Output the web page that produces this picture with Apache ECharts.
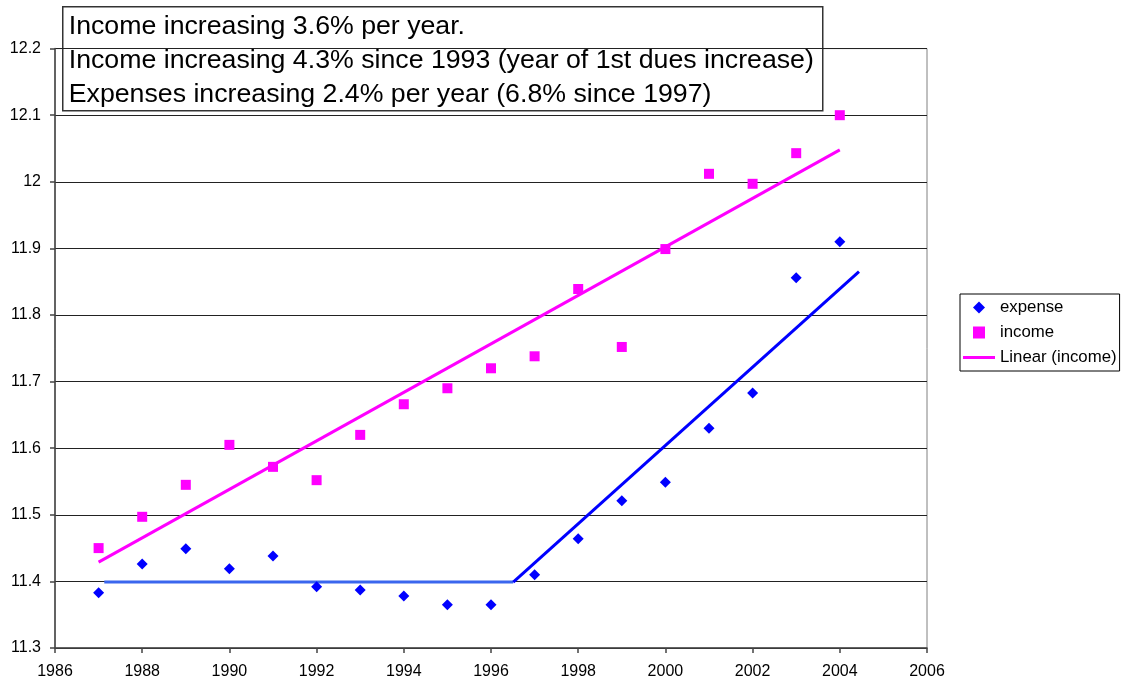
<!DOCTYPE html>
<html>
<head>
<meta charset="utf-8">
<style>
  html, body { margin: 0; padding: 0; background: #fff; }
  #chart { width: 1122px; height: 680px; }
</style>
<script src="https://cdn.jsdelivr.net/npm/echarts@6/dist/echarts.min.js"></script>
</head>
<body>
<div id="chart"></div>
<script>
// Years shown on the chart
const years = [1987, 1988, 1989, 1990, 1991, 1992, 1993, 1994, 1995, 1996,
               1997, 1998, 1999, 2000, 2001, 2002, 2003, 2004];

// Annual income and expense (log scale values)
const income = [11.450, 11.497, 11.545, 11.605, 11.572, 11.552, 11.620, 11.666, 11.690, 11.720,
                11.738, 11.839, 11.752, 11.899, 12.012, 11.997, 12.043, 12.100];
const expense = [11.383, 11.426, 11.449, 11.419, 11.438, 11.392, 11.387, 11.378, 11.365, 11.365,
                 11.410, 11.464, 11.521, 11.549, 11.630, 11.683, 11.856, 11.910];

// Linear trend of income: endpoints [year, value]
const incomeTrend = [[1987, 11.429], [2004, 12.048]];

// Expense guide lines: flat until 1996.5, rising afterwards
const expenseFlat = [[1987.13, 11.399], [1996.51, 11.399]];
const expenseRise = [[1996.51, 11.399], [2004.44, 11.865]];

// Axis ranges and tick steps
const xRange = [1986, 2006, 2];
const yRange = [11.3, 12.2, 0.1];

// Notes shown in the box at the top
const notes = [
  'Income increasing 3.6% per year.',
  'Income increasing 4.3% since 1993 (year of 1st dues increase)',
  'Expenses increasing 2.4% per year (6.8% since 1997)'
];

const FONT = '"Liberation Sans", Arial, sans-serif';
const pair = (xs, ys) => xs.map((x, i) => [x, ys[i]]);

// Legend icons (paths keep their aspect ratio inside the icon box)
const ICON_DIAMOND = 'path://M5,0 L10,5 L5,10 L0,5 Z';
const ICON_SQUARE = 'path://M0,0 L10,0 L10,10 L0,10 Z';
const ICON_LINE = 'path://M0,0 L32,0 L32,3 L0,3 Z';

const chart = echarts.init(document.getElementById('chart'), null, { renderer: 'canvas' });

chart.setOption({
  backgroundColor: '#ffffff',
  animation: false,
  textStyle: { fontFamily: FONT },
  grid: { left: 55, right: 195, top: 48.6, bottom: 32, show: true, borderColor: '#808080', borderWidth: 1, backgroundColor: 'transparent' },
  xAxis: {
    type: 'value', min: xRange[0], max: xRange[1], interval: xRange[2],
    axisLine: { show: true, onZero: false, lineStyle: { color: '#444', width: 1.5 } },
    axisTick: { show: true, inside: false, length: 5, lineStyle: { color: '#444', width: 1.5 } },
    axisLabel: { color: '#000', fontSize: 16, fontFamily: FONT, margin: 16,
                 formatter: v => String(v) },
    splitLine: { show: false }
  },
  yAxis: {
    type: 'value', min: yRange[0], max: yRange[1], interval: yRange[2],
    axisLine: { show: true, onZero: false, lineStyle: { color: '#444', width: 1.5 } },
    axisTick: { show: true, inside: false, length: 5, lineStyle: { color: '#444', width: 1.5 } },
    axisLabel: { color: '#000', fontSize: 16, fontFamily: FONT, margin: 14,
                 formatter: v => String(parseFloat(v.toFixed(1))) },
    splitLine: { show: true, lineStyle: { color: '#222', width: 1 } }
  },
  legend: {
    orient: 'vertical', left: 960, top: 294,
    padding: [5, 3, 5, 3],
    itemGap: 8, itemWidth: 32, itemHeight: 12,
    symbolKeepAspect: true,
    borderColor: '#000', borderWidth: 1,
    textStyle: { color: '#000', fontSize: 16.8, fontFamily: FONT },
    data: [
      { name: 'expense', icon: ICON_DIAMOND },
      { name: 'income', icon: ICON_SQUARE },
      { name: 'Linear (income)', icon: ICON_LINE }
    ]
  },
  graphic: [{
    type: 'group', left: 62, top: 6, z: 100,
    children: [
      { type: 'rect', shape: { x: 0, y: 0, width: 760, height: 104 },
        style: { fill: '#fff', stroke: '#333', lineWidth: 1.5 } },
      { type: 'text', x: 6, y: 3, scaleX: 1.027,
        style: { text: notes.join('\n'), font: '26px ' + FONT, fill: '#000', lineHeight: 34 } }
    ]
  }],
  series: [
    { name: 'expense', type: 'scatter', data: pair(years, expense),
      symbol: 'diamond', symbolSize: 11, itemStyle: { color: '#0000ff', opacity: 1 }, z: 5 },
    { name: 'income', type: 'scatter', data: pair(years, income),
      symbol: 'rect', symbolSize: 10, itemStyle: { color: '#ff00ff', opacity: 1 }, z: 5 },
    { name: 'Linear (income)', type: 'line', data: incomeTrend,
      symbol: 'none', lineStyle: { color: '#ff00ff', width: 3 }, itemStyle: { color: '#ff00ff' }, z: 4 },
    { name: 'expenseFlat', type: 'line', data: expenseFlat,
      symbol: 'none', lineStyle: { color: '#3a66ee', width: 3 }, z: 4 },
    { name: 'expenseRise', type: 'line', data: expenseRise,
      symbol: 'none', lineStyle: { color: '#0000ff', width: 3 }, z: 4 }
  ]
});
</script>
</body>
</html>
